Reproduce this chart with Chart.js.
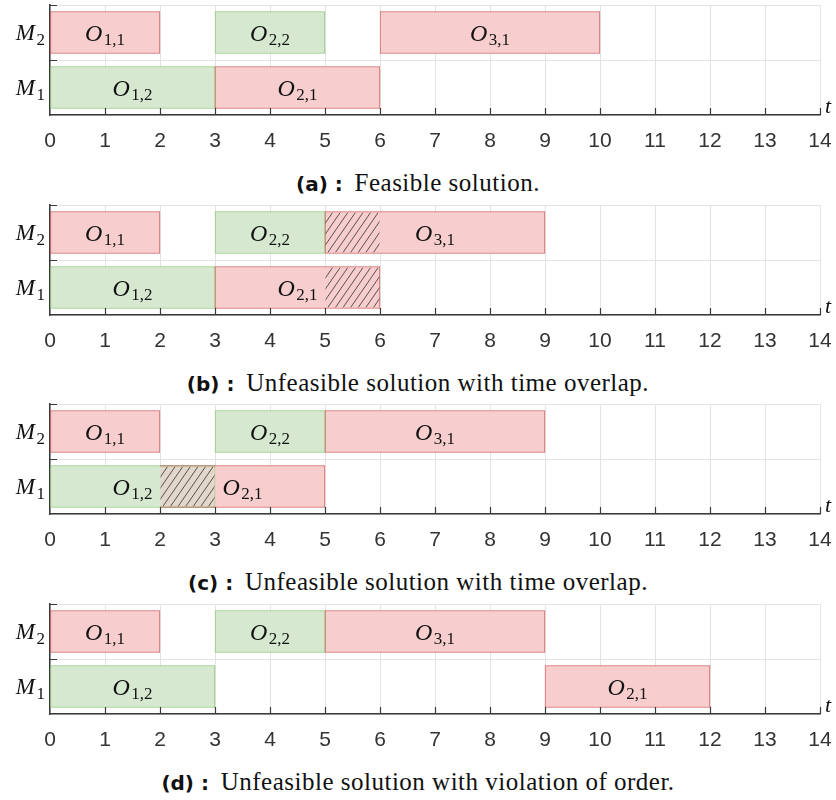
<!DOCTYPE html>
<html>
<head>
<meta charset="utf-8">
<script src="https://cdn.jsdelivr.net/npm/chart.js@4/dist/chart.umd.min.js"></script>
<style>
  html, body { margin: 0; padding: 0; background: #fff; }
  body { width: 836px; height: 800px; position: relative; overflow: hidden; }
  .panel { position: absolute; left: 0; width: 836px; height: 165px; }
  .panel canvas { display: block; }
  .cap { position: absolute; left: 0; width: 836px; text-align: center;
         font-family: "Liberation Serif", "DejaVu Serif", serif; font-size: 25px; letter-spacing: 0.5px; color: #111;
         line-height: 28px; white-space: nowrap; }
  .cap b { font-family: "DejaVu Sans", "Open Sans", sans-serif; font-weight: bold; font-size: 20px; letter-spacing: 0; margin-right: 5px; }
</style>
</head>
<body>
<script>
// Machines, top row first
const machines = ['M2', 'M1'];
// Time axis tick values
const timeTicks = [0, 1, 2, 3, 4, 5, 6, 7, 8, 9, 10, 11, 12, 13, 14];

// Operations O_{i,j}: subscript, machine, start, end
const opNames = ['1,1', '2,2', '3,1', '1,2', '2,1'];
const opMachines = ['M2', 'M2', 'M2', 'M1', 'M1'];

// (a) feasible schedule
const startA = [0, 3, 6, 0, 3];
const endA   = [2, 5, 10, 3, 6];
// (b) overlap on both machines
const startB = [0, 3, 5, 0, 3];
const endB   = [2, 5, 9, 3, 6];
// (c) overlap on M1
const startC = [0, 3, 5, 0, 2];
const endC   = [2, 5, 9, 3, 5];
// (d) order violated
const startD = [0, 3, 5, 0, 9];
const endD   = [2, 5, 9, 3, 12];

// Conflict intervals (hatched)
const hatchMachB = ['M2', 'M1'];
const hatchStartB = [5, 5];
const hatchEndB = [6, 6];
const hatchMachC = ['M1'];
const hatchStartC = [2];
const hatchEndC = [3];

const captionTags = ['(a) :', '(b) :', '(c) :', '(d) :'];
const captionTexts = [
  'Feasible solution.',
  'Unfeasible solution with time overlap.',
  'Unfeasible solution with time overlap.',
  'Unfeasible solution with violation of order.'
];

const panels = [
  { start: startA, end: endA, hMach: [], hStart: [], hEnd: [] },
  { start: startB, end: endB, hMach: hatchMachB, hStart: hatchStartB, hEnd: hatchEndB },
  { start: startC, end: endC, hMach: hatchMachC, hStart: hatchStartC, hEnd: hatchEndC },
  { start: startD, end: endD, hMach: [], hStart: [], hEnd: [] }
];

const panelTops = [0, 200, 399, 599];
const captionOffset = 169;

const SERIF = '"Liberation Serif", "DejaVu Serif", serif';
const RED_FILL = 'rgb(247,205,205)', RED_LINE = 'rgb(212,98,98)';
const GREEN_FILL = 'rgb(214,233,208)', GREEN_LINE = 'rgb(142,198,122)';
const OVERLAP_FILL = 'rgb(226,215,201)';
const BAR_THICK = 42;

// Italic letter with upright subscript, as in M_2 or O_{1,2}
function drawSub(ctx, main, sub, x, baseY, size, align) {
  const subSize = Math.round(size * 0.72);
  ctx.font = `italic ${size}px ${SERIF}`;
  const wMain = ctx.measureText(main).width;
  ctx.font = `${subSize}px ${SERIF}`;
  const wSub = ctx.measureText(sub).width;
  const total = wMain + 1.5 + wSub;
  const x0 = align === 'right' ? x - total : x - total / 2;
  ctx.textAlign = 'left';
  ctx.textBaseline = 'alphabetic';
  ctx.fillStyle = '#111';
  ctx.font = `italic ${size}px ${SERIF}`;
  ctx.fillText(main, x0, baseY);
  ctx.font = `${subSize}px ${SERIF}`;
  ctx.fillText(sub, x0 + wMain + 1.5, baseY + size * 0.2);
}

const ganttDecor = {
  id: 'ganttDecor',
  afterDatasetsDraw(chart, args, opts) {
    const { ctx, chartArea: ca, scales: { x, y } } = chart;
    const p = opts.panel;
    ctx.save();

    // hatched conflict intervals
    p.hMach.forEach((m, k) => {
      const x1 = x.getPixelForValue(p.hStart[k]);
      const x2 = x.getPixelForValue(p.hEnd[k]);
      const yc = y.getPixelForValue(machines.indexOf(m));
      const top = yc - BAR_THICK / 2 + 1, bot = yc + BAR_THICK / 2 - 1;
      // count operations on this machine covering the interval
      let cover = 0;
      opNames.forEach((_, i) => {
        if (opMachines[i] === m && p.start[i] < p.hEnd[k] && p.end[i] > p.hStart[k]) cover++;
      });
      ctx.save();
      ctx.beginPath();
      ctx.rect(x1 + 0.5, top, x2 - x1 - 1, bot - top);
      ctx.clip();
      if (cover > 1) {
        ctx.fillStyle = OVERLAP_FILL;
        ctx.fillRect(x1, top, x2 - x1, bot - top);
      }
      ctx.strokeStyle = 'rgba(60,60,60,0.85)';
      ctx.lineWidth = 1;
      const h = bot - top, run = h / 1.45;
      for (let sx = x1 - run; sx < x2 + 2; sx += 7.6) {
        ctx.beginPath();
        ctx.moveTo(sx, bot);
        ctx.lineTo(sx + run, top);
        ctx.stroke();
      }
      ctx.restore();
      if (cover > 1) {
        ctx.strokeStyle = 'rgba(190,120,110,0.8)';
        ctx.lineWidth = 1;
        ctx.beginPath();
        ctx.moveTo(x1, top - 0.5); ctx.lineTo(x2, top - 0.5);
        ctx.moveTo(x1, bot + 0.5); ctx.lineTo(x2, bot + 0.5);
        ctx.stroke();
      }
    });

    // operation labels
    opNames.forEach((n, i) => {
      const cx = x.getPixelForValue((p.start[i] + p.end[i]) / 2);
      const yc = y.getPixelForValue(machines.indexOf(opMachines[i]));
      drawSub(ctx, 'O', n, cx, yc + 8, 24, 'center');
    });

    // machine labels
    machines.forEach((m, i) => {
      const yc = y.getPixelForValue(i);
      drawSub(ctx, m[0], m.slice(1), ca.left - 5, yc + 7.5, 23, 'right');
    });

    // inward tick marks
    ctx.strokeStyle = '#3a3a3a';
    ctx.lineWidth = 1.2;
    ctx.beginPath();
    timeTicks.forEach(v => {
      if (v === timeTicks[0]) return;
      const px = Math.round(x.getPixelForValue(v)) + 0.5;
      ctx.moveTo(px, ca.bottom);
      ctx.lineTo(px, ca.bottom - 7);
    });
    [ca.top, (ca.top + ca.bottom) / 2].forEach(py => {
      const yy = Math.round(py) + 0.5;
      ctx.moveTo(ca.left, yy);
      ctx.lineTo(ca.left + 7, yy);
    });
    ctx.stroke();

    // axis variable
    ctx.fillStyle = '#111';
    ctx.font = `italic 22px ${SERIF}`;
    ctx.textAlign = 'left';
    ctx.textBaseline = 'alphabetic';
    ctx.fillText('t', ca.right + 5, ca.bottom - 2);
    ctx.restore();
  }
};

panels.forEach((p, pi) => {
  const wrap = document.createElement('div');
  wrap.className = 'panel';
  wrap.style.top = panelTops[pi] + 'px';
  const cv = document.createElement('canvas');
  cv.width = 836; cv.height = 165;
  cv.style.width = '836px'; cv.style.height = '165px';
  wrap.appendChild(cv);
  document.body.appendChild(wrap);

  const cap = document.createElement('div');
  cap.className = 'cap';
  cap.style.top = (panelTops[pi] + captionOffset) + 'px';
  const tag = document.createElement('b');
  tag.textContent = captionTags[pi];
  cap.appendChild(tag);
  cap.appendChild(document.createTextNode(' ' + captionTexts[pi]));
  document.body.appendChild(cap);

  const datasets = opNames.map((n, i) => {
    const red = n.split(',')[1] === '1';
    return {
      label: 'O' + n,
      data: [{ x: [p.start[i], p.end[i]], y: opMachines[i] }],
      backgroundColor: red ? RED_FILL : GREEN_FILL,
      borderColor: red ? RED_LINE : GREEN_LINE,
      borderWidth: 1,
      borderSkipped: false,
      barThickness: BAR_THICK,
      grouped: false
    };
  });

  new Chart(cv, {
    type: 'bar',
    data: { labels: machines, datasets },
    options: {
      indexAxis: 'y',
      responsive: false,
      animation: false,
      layout: { padding: { top: 5, right: 16, left: 0, bottom: 0 } },
      plugins: { legend: { display: false }, tooltip: { enabled: false }, ganttDecor: { panel: p } },
      scales: {
        x: {
          type: 'linear', min: timeTicks[0], max: timeTicks[timeTicks.length - 1],
          afterBuildTicks(s) { s.ticks = timeTicks.map(v => ({ value: v })); },
          afterFit(s) { s.height = 50; s.paddingRight = 0; s.paddingLeft = 0; },
          grid: { color: '#e3e3e3', lineWidth: 1, drawTicks: false },
          border: { display: true, color: '#3a3a3a', width: 1.5 },
          ticks: { color: '#333', font: { family: '"Liberation Sans", Arial, sans-serif', size: 21 }, padding: 14, maxRotation: 0, autoSkip: false }
        },
        y: {
          type: 'category',
          afterFit(s) { s.width = 50; },
          grid: { color: '#e3e3e3', lineWidth: 1, drawTicks: false },
          border: { display: true, color: '#3a3a3a', width: 1.5 },
          ticks: { display: false }
        }
      }
    },
    plugins: [ganttDecor]
  });
});
</script>
</body>
</html>
